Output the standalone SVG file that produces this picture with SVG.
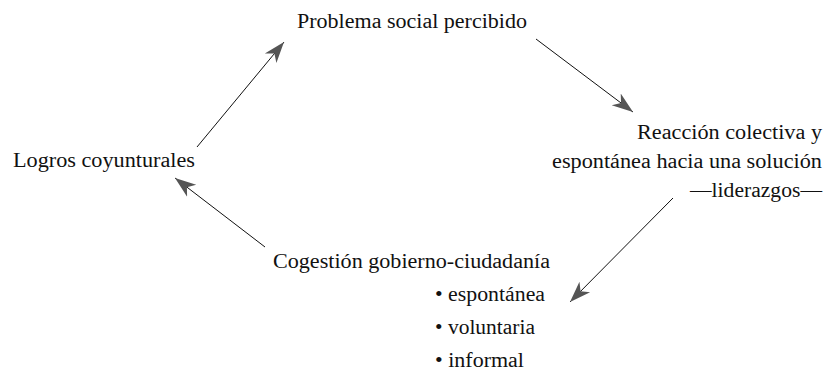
<svg xmlns="http://www.w3.org/2000/svg" width="825" height="377" viewBox="0 0 825 377">
<style>
text{font-family:"Liberation Serif","DejaVu Serif",serif;font-size:20.5px;fill:#111}
.c{stroke:#111;stroke-width:1;fill:none}
</style>
<defs>
<marker id="ah" markerUnits="userSpaceOnUse" markerWidth="24" markerHeight="18" refX="21" refY="9" orient="auto">
<path d="M0,1.5 L21,9 L0,16.5 L6,9 Z" fill="#555"/>
</marker>
</defs>
<rect width="825" height="377" fill="#fff"/>
<g id="n1"><text x="297" y="28" textLength="230" lengthAdjust="spacingAndGlyphs">Problema social percibido</text></g>
<g id="n2">
<text x="822" y="139" text-anchor="end" textLength="185" lengthAdjust="spacingAndGlyphs">Reacción colectiva y</text>
<text x="822" y="168" text-anchor="end" textLength="270" lengthAdjust="spacingAndGlyphs">espontánea hacia una solución</text>
<text x="822" y="197" text-anchor="end" textLength="132" lengthAdjust="spacingAndGlyphs">—liderazgos—</text>
</g>
<g id="n3">
<text x="273" y="268" textLength="277" lengthAdjust="spacingAndGlyphs">Cogestión gobierno-ciudadanía</text>
<text x="435" y="301" textLength="110" lengthAdjust="spacingAndGlyphs">• espontánea</text>
<text x="435" y="334" textLength="100" lengthAdjust="spacingAndGlyphs">• voluntaria</text>
<text x="435" y="367" textLength="89" lengthAdjust="spacingAndGlyphs">• informal</text>
</g>
<g id="n4"><text x="13" y="167" textLength="182" lengthAdjust="spacingAndGlyphs">Logros coyunturales</text></g>
<g id="connectors">
<line class="c" x1="197" y1="147" x2="284" y2="42" marker-end="url(#ah)"/>
<line class="c" x1="536" y1="39" x2="633" y2="112" marker-end="url(#ah)"/>
<line class="c" x1="673" y1="198" x2="570" y2="302" marker-end="url(#ah)"/>
<line class="c" x1="265" y1="247" x2="175" y2="178" marker-end="url(#ah)"/>
</g>
</svg>
